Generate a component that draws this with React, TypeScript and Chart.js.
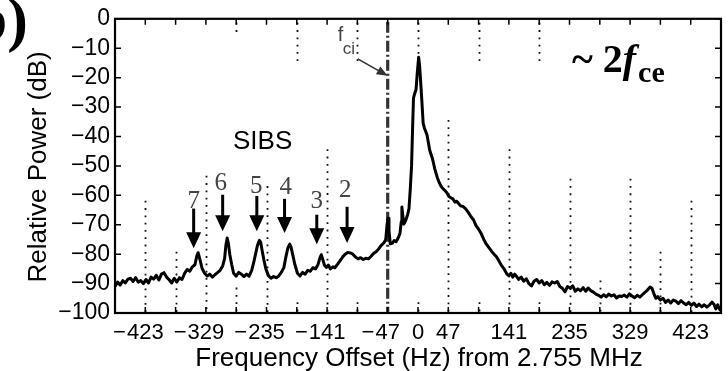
import { useEffect, useRef } from "react";
import { Chart, registerables } from "chart.js";
Chart.register(...registerables);

// ---- spectrum trace (Hz offset from 2.755 MHz, relative power dB) ----
const freqHz = [
  -470, -466, -462, -458, -454, -450, -446, -442, -438, -434, -430, -426, -422, -418, -414, -410, -406, -402, -398, -394,
  -390, -386, -382, -378, -374, -370, -366, -362, -358, -354, -350, -346, -343, -341, -338, -335, -331, -327, -323, -319,
  -315, -311, -307, -303, -300, -298, -296, -294, -292, -289, -286, -282, -278, -274, -270, -266, -262, -258, -255, -252,
  -249, -246, -244, -242, -239, -236, -232, -228, -224, -220, -216, -212, -208, -205, -202, -199, -197, -194, -191, -187,
  -183, -179, -175, -171, -167, -163, -159, -155, -152, -150, -148, -145, -142, -139, -136, -132, -129, -125, -121, -117,
  -113, -109, -105, -101, -97, -93, -89, -85, -81, -77, -73, -69, -65, -61, -57, -53, -50, -48, -46.5, -45,
  -43, -40, -37, -34, -31, -28, -26, -25, -23.5, -22, -19, -16, -14, -12, -10, -8.5, -7, -5, -3, -1,
  1, 2.5, 4, 6, 8, 10, 12, 14, 16, 18, 20, 22, 24, 26, 28, 30, 33, 36, 39, 42,
  45, 48, 51, 54, 57, 60, 63, 66, 70, 74, 78, 82, 86, 90, 94, 98, 102, 106, 110, 114,
  118, 122, 126, 130, 134, 138, 141, 144, 147, 150, 153, 156, 160, 164, 168, 172, 176, 180, 184, 188,
  192, 196, 200, 204, 208, 212, 216, 220, 224, 228, 232, 236, 240, 244, 248, 252, 256, 260, 264, 268,
  272, 276, 280, 284, 288, 292, 296, 300, 304, 308, 312, 316, 320, 324, 328, 332, 336, 340, 344, 348,
  352, 356, 360, 363, 366, 369, 372, 376, 380, 384, 388, 392, 396, 400, 404, 408, 412, 416, 420, 424,
  428, 432, 436, 440, 444, 448, 452, 456, 459, 462, 465, 468, 470,
];
const powerDb = [
  -91, -89.5, -90.5, -89, -89.8, -88.5, -88.2, -89.3, -88, -89.5, -89, -90, -88.6, -89.8, -87.8, -88.5, -87.2, -88.8, -86.8, -86.3,
  -87.8, -88.7, -89.8, -88.2, -89.5, -88, -88.6, -86.5, -85.2, -85.8, -84.3, -83.6, -80.5, -79.5, -82, -84.8, -86.5, -87.4, -86.8, -87.8,
  -87, -86.3, -85.5, -84, -81.5, -77, -74.5, -76.5, -80, -83.5, -86.5, -87.5, -86.2, -86.8, -87.6, -86.8, -87.5, -85.5, -83, -80,
  -77, -75.3, -76, -78.5, -82, -85, -87.3, -88.2, -87.6, -88, -87.4, -86.2, -84.5, -81, -78, -76.6, -77.5, -80.5, -83.5, -86.5,
  -87.4, -86.2, -86.8, -85.5, -85.8, -84.6, -85, -83.5, -81.2, -80.2, -81.6, -83.8, -84.5, -83.7, -85, -84.3, -84.6, -83.5, -82.3, -81,
  -80, -79.4, -79.6, -80, -81, -81.6, -81.2, -81.8, -81.4, -81.6, -80.8, -79.8, -79.2, -78.2, -77, -76.2, -75, -70, -67.8, -72,
  -76.5, -76.3, -75.4, -75.8, -74.6, -73, -69, -64, -67, -69.8, -68.5, -66.5, -64.5, -58, -50, -38, -27, -25.3, -24, -18,
  -13.1, -16, -21, -28, -35.5, -37.2, -38.3, -39.5, -42, -44.5, -46, -47.2, -49, -51, -52.5, -54, -55.7, -57, -57.8, -58.4,
  -59.2, -60.4, -60.8, -61.2, -62.3, -62, -62.8, -63.6, -63.8, -64.6, -65.8, -67.2, -68.3, -70.3, -71.5, -73, -75, -76.6, -77.8, -79,
  -80, -81, -82.5, -84, -85.2, -86.8, -87.4, -86.5, -87.8, -86.8, -87.6, -88.6, -87.8, -89.2, -88.4, -90, -90.8, -89.2, -88.6, -89.8,
  -89, -90.4, -89.6, -90.6, -89.4, -89.8, -89.3, -91, -91.6, -92.8, -91, -91.5, -90.8, -92.6, -91.8, -92.4, -91.4, -92.6, -91.5, -92.4,
  -92.9, -93.6, -94, -94.6, -93.8, -94.5, -93.6, -94.2, -93.8, -94.9, -94.2, -94.4, -93.9, -94.6, -93.5, -94.2, -94.8, -94, -94.6, -93.8,
  -93, -92.2, -91.2, -91.6, -93.5, -95, -94.4, -95.6, -95, -96.4, -95.6, -96.6, -95.6, -96, -96.8, -95.8, -96.6, -97.2, -96.4, -97.4,
  -96.6, -97.8, -97, -97.9, -97.2, -98, -97.3, -96.3, -97, -98.6, -97.2, -98.8, -99.2,
];

// ---- axes ----
const xMin = -470;
const xMax = 470;
const yMin = -100;
const yMax = 0;
const xTickValues = [-470, -423, -376, -329, -282, -235, -188, -141, -94, -47, 0, 47, 94, 141, 188, 235, 282, 329, 376, 423, 470];
const xLabeledTicks = [-423, -329, -235, -141, -47, 0, 47, 141, 235, 329, 423];
const yTickValues = [0, -10, -20, -30, -40, -50, -60, -70, -80, -90, -100];
const xTitle = "Frequency Offset (Hz) from 2.755 MHz";
const yTitle = "Relative Power (dB)";

// ---- partial dotted grid lines (Hz, from dB, to dB) ----
const gridSegHz = [-423, -376, -329, -282, -282, -235, -188, -188, -141, -94, -94, 0, 0, 47, 94, 94, 141, 188, 188, 235, 282, 329, 376, 423];
const gridSegTopDb = [-60.5, -77.8, -52, -90, 0, -55.5, -95, 0, -43, -95, 0, 0, -95, -33, 0, -95, -43, 0, -95, -53, -87.6, -53, -77.8, -60.5];
const gridSegBottomDb = [-100, -100, -100, -100, -6, -100, -100, -16, -100, -100, -16, -16, -100, -100, -16, -100, -100, -16, -100, -100, -100, -100, -100, -100];

// ---- ion cyclotron marker ----
const fciHz = -47;
const fciArrowTipDb = -19.4;

// ---- SIBS harmonic arrows ----
const sibsOrders = ["7", "6", "5", "4", "3", "2"];
const sibsArrowHz = [-348, -303, -250, -207, -157, -110];
const sibsTipDb = [-78, -72.2, -72.2, -72.8, -76.6, -76.2];
const sibsTailDb = [-64.5, -59.8, -60.2, -61.2, -66.6, -63.9];
const sibsLabelDb = [-62.2, -55.9, -56.9, -57.2, -62.2, -58.5];
const sibsLabelHz = [-348, -306, -251, -205, -157, -113];
const sibsText = "SIBS";
const sibsTextHz = -241;
const sibsTextDb = -41.8;

const W = 728;
const H = 371;
const SANS = "'Liberation Sans', Arial, sans-serif";
const SERIF = "'Liberation Serif', 'Times New Roman', serif";

export default function App() {
  const ref = useRef<HTMLCanvasElement | null>(null);

  useEffect(() => {
    document.body.style.margin = "0";
    const canvas = ref.current;
    if (!canvas) return;

    const points = freqHz.map((f, i) => ({ x: f, y: powerDb[i] }));
    const fmt = (v: number) => (v < 0 ? "\u2212" + Math.abs(v) : String(v));

    const gridPlugin = {
      id: "partialGrid",
      beforeDatasetsDraw(chart: any) {
        const { ctx, scales } = chart;
        const xs = scales.x, ys = scales.y;
        ctx.save();
        ctx.strokeStyle = "#111";
        ctx.lineWidth = 1.8;
        ctx.setLineDash([1.8, 5.5]);
        gridSegHz.forEach((hz, i) => {
          const x = Math.round(xs.getPixelForValue(hz)) + 0.5;
          ctx.beginPath();
          ctx.moveTo(x, ys.getPixelForValue(gridSegTopDb[i]) + 4);
          ctx.lineTo(x, ys.getPixelForValue(gridSegBottomDb[i]));
          ctx.stroke();
        });
        // dash-dot f_ci line
        const fx = xs.getPixelForValue(fciHz);
        ctx.strokeStyle = "#333";
        ctx.lineWidth = 3.2;
        ctx.setLineDash([11, 3, 2, 3]);
        ctx.beginPath();
        ctx.moveTo(fx, ys.getPixelForValue(yMax) + 3);
        ctx.lineTo(fx, ys.getPixelForValue(yMin));
        ctx.stroke();
        ctx.restore();
      },
    };

    const framePlugin = {
      id: "frameTicks",
      afterDatasetsDraw(chart: any) {
        const { ctx, chartArea: a, scales } = chart;
        const xs = scales.x, ys = scales.y;
        ctx.save();
        ctx.strokeStyle = "#000";
        ctx.lineWidth = 1.5;
        ctx.setLineDash([]);
        const tl = 6;
        xTickValues.forEach((v) => {
          const x = xs.getPixelForValue(v);
          ctx.beginPath();
          ctx.moveTo(x, a.bottom);
          ctx.lineTo(x, a.bottom - tl);
          ctx.moveTo(x, a.top);
          ctx.lineTo(x, a.top + tl);
          ctx.stroke();
        });
        yTickValues.forEach((v) => {
          const y = ys.getPixelForValue(v);
          ctx.beginPath();
          ctx.moveTo(a.left, y);
          ctx.lineTo(a.left + tl, y);
          ctx.moveTo(a.right, y);
          ctx.lineTo(a.right - tl, y);
          ctx.stroke();
        });
        ctx.lineWidth = 2.2;
        ctx.strokeRect(a.left, a.top, a.right - a.left, a.bottom - a.top);

        // x tick labels: digits centred on the tick, minus sign hanging to the left
        ctx.fillStyle = "#000";
        ctx.font = "22px " + SANS;
        ctx.textBaseline = "middle";
        xLabeledTicks.forEach((v) => {
          const x = xs.getPixelForValue(v);
          const digits = String(Math.abs(v));
          const w = ctx.measureText(digits).width;
          ctx.textAlign = "left";
          ctx.fillText(digits, x - w / 2, a.bottom + 20);
          if (v < 0) {
            ctx.textAlign = "right";
            ctx.fillText("\u2212", x - w / 2 - 1, a.bottom + 20);
          }
        });
        ctx.restore();
      },
    };

    const annotPlugin = {
      id: "annotations",
      afterDraw(chart: any) {
        const { ctx, chartArea: a, scales } = chart;
        const xs = scales.x, ys = scales.y;
        ctx.save();
        ctx.setLineDash([]);
        // axis titles
        ctx.fillStyle = "#000";
        ctx.font = "26px " + SANS;
        ctx.textAlign = "center";
        ctx.textBaseline = "alphabetic";
        ctx.fillText(xTitle, (a.left + a.right) / 2 + 1, 366);
        ctx.save();
        ctx.translate(46, (a.top + a.bottom) / 2 + 1);
        ctx.rotate(-Math.PI / 2);
        ctx.fillText(yTitle, 0, 0);
        ctx.restore();

        // panel label
        ctx.font = "bold 62px " + SERIF;
        ctx.textAlign = "right";
        ctx.fillText("b)", 28, 40);

        // SIBS
        ctx.font = "26px " + SANS;
        ctx.textAlign = "center";
        ctx.textBaseline = "middle";
        ctx.fillText(sibsText, xs.getPixelForValue(sibsTextHz), ys.getPixelForValue(sibsTextDb));

        // harmonic arrows
        sibsOrders.forEach((lab, i) => {
          const x = xs.getPixelForValue(sibsArrowHz[i]);
          const yTop = ys.getPixelForValue(sibsTailDb[i]);
          const yTip = ys.getPixelForValue(sibsTipDb[i]);
          ctx.strokeStyle = "#000";
          ctx.fillStyle = "#000";
          ctx.lineWidth = 3;
          ctx.beginPath();
          ctx.moveTo(x, yTop);
          ctx.lineTo(x, yTip - 12);
          ctx.stroke();
          ctx.beginPath();
          ctx.moveTo(x - 7.5, yTip - 16);
          ctx.lineTo(x + 7.5, yTip - 16);
          ctx.lineTo(x, yTip);
          ctx.closePath();
          ctx.fill();
          ctx.fillStyle = "#444";
          ctx.font = "25px " + SERIF;
          ctx.textAlign = "center";
          ctx.textBaseline = "middle";
          ctx.fillText(lab, xs.getPixelForValue(sibsLabelHz[i]), ys.getPixelForValue(sibsLabelDb[i]));
        });

        // f_ci label and arrow
        const tipX = xs.getPixelForValue(fciHz);
        const tipY = ys.getPixelForValue(fciArrowTipDb);
        ctx.strokeStyle = "#333";
        ctx.fillStyle = "#333";
        ctx.lineWidth = 1.6;
        const tailX = tipX - 30, tailY = tipY - 17;
        const ang = Math.atan2(tipY - tailY, tipX - tailX);
        ctx.beginPath();
        ctx.moveTo(tailX, tailY);
        ctx.lineTo(tipX - 6 * Math.cos(ang), tipY - 6 * Math.sin(ang));
        ctx.stroke();
        ctx.beginPath();
        ctx.moveTo(tipX, tipY);
        ctx.lineTo(tipX - 11 * Math.cos(ang) + 4.5 * Math.sin(ang), tipY - 11 * Math.sin(ang) - 4.5 * Math.cos(ang));
        ctx.lineTo(tipX - 11 * Math.cos(ang) - 4.5 * Math.sin(ang), tipY - 11 * Math.sin(ang) + 4.5 * Math.cos(ang));
        ctx.closePath();
        ctx.fill();
        ctx.fillStyle = "#444";
        ctx.textAlign = "left";
        ctx.textBaseline = "alphabetic";
        ctx.font = "20px " + SANS;
        ctx.fillText("f", tipX - 50, tipY - 35);
        ctx.font = "17px " + SANS;
        ctx.fillText("ci", tipX - 45, tipY - 22);

        // ~ 2 f_ce
        ctx.fillStyle = "#000";
        let x0 = 572;
        const base = 72;
        ctx.font = "bold 40px " + SERIF;
        ctx.fillText("~ 2", x0, base);
        x0 += ctx.measureText("~ 2").width;
        ctx.font = "italic bold 40px " + SERIF;
        ctx.fillText("f", x0, base);
        x0 += ctx.measureText("f").width + 2;
        ctx.font = "bold 30px " + SERIF;
        ctx.fillText("ce", x0, base + 10);
        ctx.restore();
      },
    };

    const chart = new Chart(canvas, {
      type: "line",
      data: {
        datasets: [
          {
            data: points,
            borderColor: "#000",
            borderWidth: 3,
            pointRadius: 0,
            tension: 0,
            fill: false,
            borderJoinStyle: "round",
          },
        ],
      },
      options: {
        animation: false,
        responsive: false,
        maintainAspectRatio: false,
        layout: { padding: { left: 0, right: 7, top: 14, bottom: 0 } },
        plugins: { legend: { display: false }, tooltip: { enabled: false } },
        scales: {
          x: {
            type: "linear",
            min: xMin,
            max: xMax,
            afterBuildTicks: (s: any) => {
              s.ticks = xTickValues.map((v) => ({ value: v }));
            },
            afterFit: (s: any) => {
              s.height = 58;
            },
            ticks: { display: false },
            grid: { display: false, drawTicks: false },
            border: { display: false },
          },
          y: {
            type: "linear",
            min: yMin,
            max: yMax,
            afterBuildTicks: (s: any) => {
              s.ticks = yTickValues.map((v) => ({ value: v }));
            },
            afterFit: (s: any) => {
              s.width = 115;
            },
            ticks: {
              autoSkip: false,
              padding: 5,
              color: "#000",
              font: { family: SANS, size: 23 },
              callback: (v: any) => fmt(Number(v)),
            },
            grid: { display: false, drawTicks: false },
            border: { display: false },
          },
        },
      },
      plugins: [gridPlugin, framePlugin, annotPlugin],
    } as any);

    return () => chart.destroy();
  }, []);

  return (
    <div style={{ position: "fixed", left: 0, top: 0, width: W, height: H, background: "#fff" }}>
      <canvas ref={ref} width={W} height={H} style={{ display: "block", width: W, height: H }} />
    </div>
  );
}
